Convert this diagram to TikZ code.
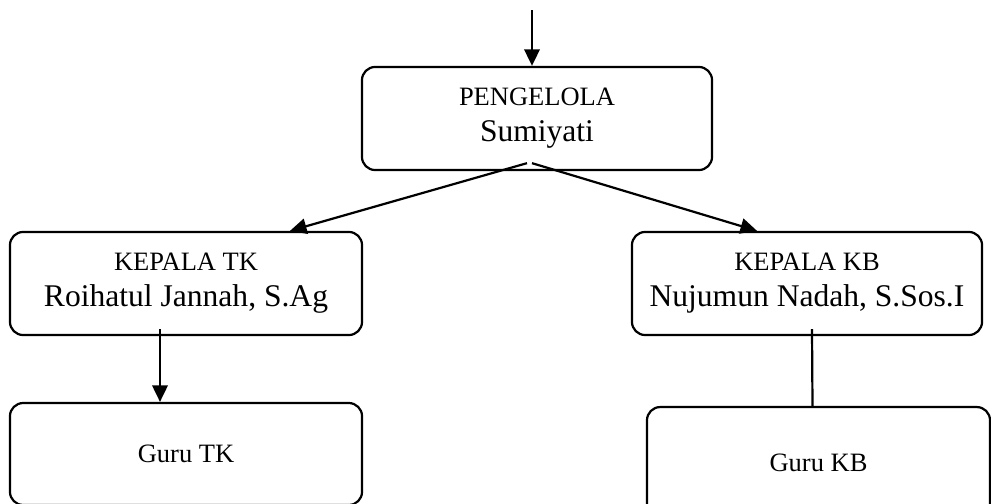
\documentclass[tikz,border=0pt]{standalone}
\usepackage{fontspec}
\setmainfont{Liberation Serif}
\usepackage{tikz}
\usetikzlibrary{positioning,arrows.meta,calc}
\newcommand\rolesize{\fontsize{12}{16.3}\selectfont}
\newcommand\namesize{\fontsize{14.3}{16.3}\selectfont}

\begin{document}
\begin{tikzpicture}[x=0.453pt, y=-0.453pt,
    unit/.style={draw, line width=1pt, rounded corners=6pt, align=center,
                 inner sep=0pt, font=\namesize},
    link/.style={line width=1pt},
    arr/.style={link, -{Triangle[length=7.5pt,width=7pt]}}]
  \clip (0,0) rectangle (991,503);
  % boxes
  \node[unit, minimum width=158.6pt, minimum height=46.7pt] (pg) at (537,118.5)
    {{\rolesize PENGELOLA}\\Sumiyati};
  \node[unit, minimum width=159.5pt, minimum height=46.7pt] (tk) at (186,283.5)
    {{\rolesize KEPALA TK}\\Roihatul Jannah, S.Ag};
  \node[unit, minimum width=158.6pt, minimum height=46.7pt] (kb) at (807,283.5)
    {{\rolesize KEPALA KB}\\Nujumun Nadah, S.Sos.I};
  \node[unit, font=\rolesize, minimum width=159.5pt, minimum height=46.2pt] (gtk) at (186,454)
    {Guru TK};
  \node[unit, font=\rolesize, minimum width=155.4pt, minimum height=50.7pt] (gkb) at (818.5,463)
    {Guru KB};
  % connectors
  \coordinate (top) at (532,10);
  \draw[arr] (top) -- (top |- pg.north);
  \draw[arr] ($(pg.south)+(-10,-8)$) -- ($(tk.north)+(104,0)$);
  \draw[arr] ($(pg.south)+(-5,-8)$) -- ($(kb.north)+(-50,0)$);
  \draw[arr] ($(tk.south)+(-26,-7)$) -- ($(gtk.north)+(-26,0)$);
  \draw[link] ($(kb.south)+(5,-7)$) -- ($(gkb.north)+(-6,0)$);
\end{tikzpicture}
\end{document}
